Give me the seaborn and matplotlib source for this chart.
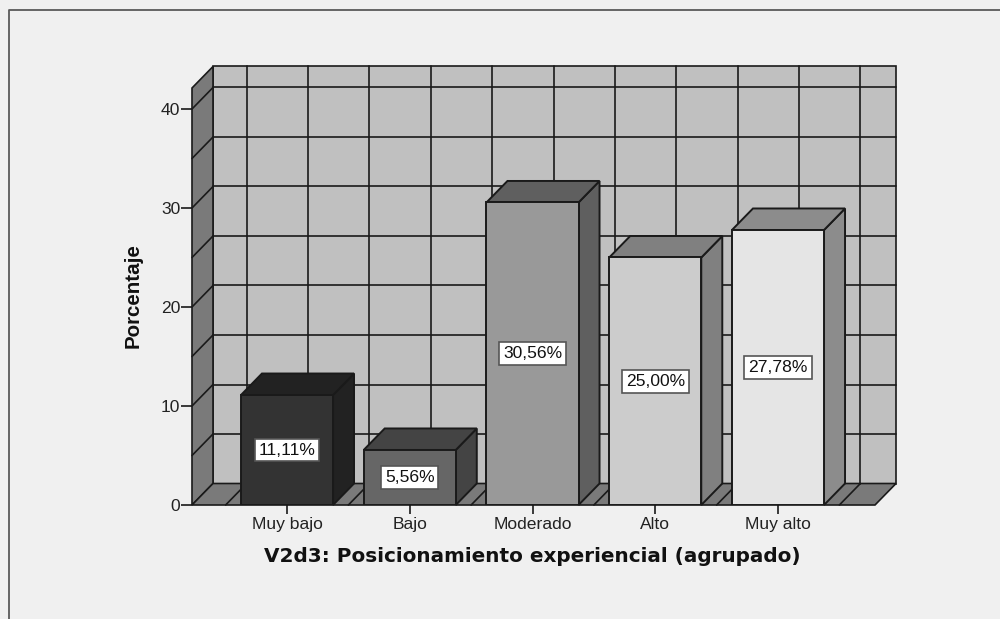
import matplotlib
matplotlib.use("Agg")
import matplotlib.pyplot as plt
from matplotlib.lines import Line2D
import seaborn as sns
import pandas as pd

categories = ["Muy bajo", "Bajo", "Moderado", "Alto", "Muy alto"]
percentages = [11.11, 5.56, 30.56, 25.00, 27.78]
y_ticks = [0, 10, 20, 30, 40]
x_label = "V2d3: Posicionamiento experiencial (agrupado)"
y_label = "Porcentaje"

front_colors = ["#333333", "#666666", "#999999", "#CCCCCC", "#E5E5E5"]
shade_colors = ["#222222", "#444444", "#5f5f5f", "#808080", "#8c8c8c"]
WALL = "#C0C0C0"
SIDE = "#7A7A7A"
BG = "#F0F0F0"
INK = "#1a1a1a"

sns.set_style("white")
plt.rcParams["font.family"] = ["Liberation Sans", "DejaVu Sans"]

fig = plt.figure(figsize=(10, 6.19), dpi=100, facecolor=BG)
W, H = 1000, 619
L, R, B, T = 192, 875, 505, 88
ax = fig.add_axes([L / W, 1 - B / H, (R - L) / W, (B - T) / H])
ax.patch.set_visible(False)

df = pd.DataFrame({"cat": categories, "pct": percentages})
sns.barplot(data=df, x="cat", y="pct", hue="cat", palette=front_colors, hue_order=categories,
            width=0.75, dodge=False, legend=False, edgecolor=INK, linewidth=1.4,
            saturation=1, ax=ax, zorder=5)

step = 122.75
ax.set_xlim((L - 287) / step, (R - 287) / step)
ymax = (B - T) / 9.9
ax.set_ylim(0, ymax)
x0, x1 = ax.get_xlim()
dx, dy = 21 / step, 21.5 / 9.9
lw = 1.2

# walls
ax.fill([x0 + dx, x1 + dx, x1 + dx, x0 + dx], [dy, dy, ymax + dy, ymax + dy], fc=WALL, ec=INK, lw=lw, clip_on=False, zorder=1)
ax.fill([x0, x0 + dx, x0 + dx, x0], [0, dy, ymax + dy, ymax], fc=SIDE, ec=INK, lw=lw, clip_on=False, zorder=1)
ax.fill([x0, x1, x1 + dx, x0 + dx], [0, 0, dy, dy], fc=SIDE, ec=INK, lw=lw, clip_on=False, zorder=1)

# grid on walls
for v in range(5, int(ymax) + 1, 5):
    ax.plot([x0 + dx, x1 + dx], [v + dy, v + dy], color=INK, lw=lw, clip_on=False, zorder=2)
    ax.plot([x0, x0 + dx], [v, v + dy], color=INK, lw=lw, clip_on=False, zorder=2)
for k in range(0, 11):
    gx = -0.5 + k * 0.5
    ax.plot([gx + dx, gx + dx], [dy, ymax + dy], color=INK, lw=lw, clip_on=False, zorder=2)
    ax.plot([gx, gx + dx], [0, dy], color=INK, lw=lw, clip_on=False, zorder=2)

# 3D faces of the bars and value labels
hw = 0.375
for i, v in enumerate(percentages):
    ax.fill([i + hw, i + hw + dx, i + hw + dx, i + hw], [0, dy, v + dy, v],
            fc=shade_colors[i], ec=INK, lw=1.4, clip_on=False, zorder=4)
    ax.fill([i - hw, i + hw, i + hw + dx, i - hw + dx], [v, v, v + dy, v + dy],
            fc=shade_colors[i], ec=INK, lw=1.4, clip_on=False, zorder=4)
    ax.text(i, v / 2, f"{v:.2f}%".replace(".", ","), ha="center", va="center",
            fontsize=12.6, color="#111111", zorder=7,
            bbox=dict(boxstyle="square,pad=0.22", fc="white", ec="#555555", lw=1.2))

for s in ax.spines.values():
    s.set_visible(False)
ax.set_xticks(range(len(categories)), categories)
ax.set_yticks(y_ticks)
ax.tick_params(axis="x", length=6.5, width=1.2, color=INK, labelsize=12.6, labelcolor="#222222", pad=2, bottom=True)
ax.tick_params(axis="y", length=8, width=1.2, color=INK, labelsize=12.6, labelcolor="#222222", pad=0.5, left=True)
ax.set_xlabel("")
ax.set_ylabel("")

fig.text(532 / W, 1 - 556 / H, x_label, ha="center", va="center", fontsize=14.4,
         fontweight="bold", family="DejaVu Sans", color="#111111")
fig.text(133 / W, 1 - 296 / H, y_label, ha="center", va="center", rotation=90, fontsize=14.8,
         fontweight="bold", family="Liberation Sans", color="#111111")

# outer frame
fig.add_artist(Line2D([9 / W, 9 / W, 1], [0, 1 - 10 / H, 1 - 10 / H], color="#5a5a5a", lw=1.3))

fig.savefig("out.png", dpi=100, facecolor=BG)
